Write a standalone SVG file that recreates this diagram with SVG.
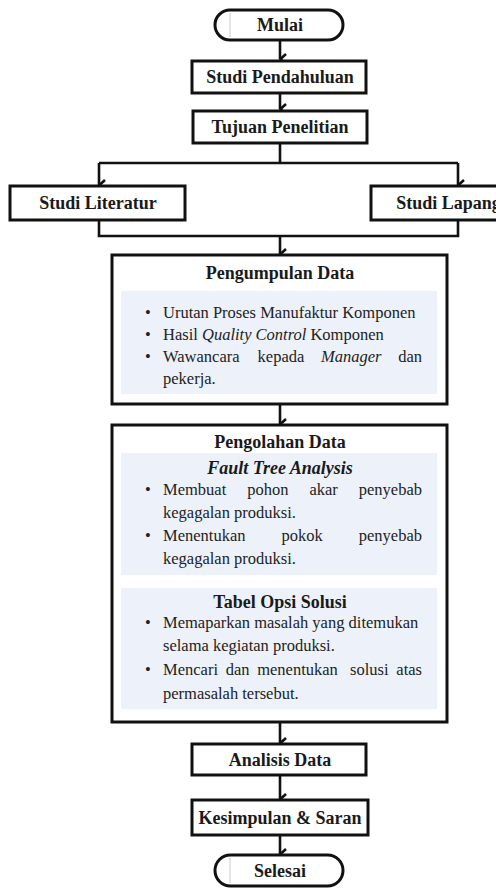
<svg xmlns="http://www.w3.org/2000/svg" width="496" height="888" viewBox="0 0 496 888">
<defs>
<style>
.box{fill:#fff;stroke:#111;stroke-width:3}
.panel{fill:#edf2fa;stroke:none}
text{font-family:'Liberation Serif',Tinos,'Times New Roman','DejaVu Serif',serif;fill:#1a1a1a}
.lbl{font-weight:bold;font-size:18px;text-anchor:middle}
.ttl{font-weight:bold;font-size:18px;text-anchor:middle}
.body{font-size:16.5px;fill:#222}
.end{text-anchor:end}
.it{font-style:italic}
.conn{fill:none;stroke:#111;stroke-width:2.6}
</style>
<marker id="arr" viewBox="0 0 12 8" refX="6" refY="7" markerWidth="12" markerHeight="8" markerUnits="userSpaceOnUse" orient="auto-start-reverse">
<path d="M1,1 L6,6.5 L11,1" fill="none" stroke="#111" stroke-width="2.6"/>
</marker>
</defs>
<rect width="496" height="888" fill="#fff"/>

<g id="connectors">
<path class="conn" d="M280,40 V59" marker-end="url(#arr)"/>
<path class="conn" d="M280,93 V109" marker-end="url(#arr)"/>
<path class="conn" d="M280,143 V163"/>
<path class="conn" d="M99,163 H458"/>
<path class="conn" d="M99,163 V185" marker-end="url(#arr)"/>
<path class="conn" d="M458,163 V185" marker-end="url(#arr)"/>
<path class="conn" d="M99,220 V236 H458 V220"/>
<path class="conn" d="M280,236 V254" marker-end="url(#arr)"/>
<path class="conn" d="M280,404 V424" marker-end="url(#arr)"/>
<path class="conn" d="M280,722 V743" marker-end="url(#arr)"/>
<path class="conn" d="M280,775 V799" marker-end="url(#arr)"/>
<path class="conn" d="M280,835 V854" marker-end="url(#arr)"/>
</g>

<g id="mulai">
<rect class="box" x="215" y="10" width="128" height="30" rx="15"/>
<line x1="230" y1="13" x2="230" y2="37" stroke="#ccc" stroke-width="1"/>
<text class="lbl" x="280" y="31">Mulai</text>
</g>

<g id="studi-pendahuluan">
<rect class="box" x="192" y="61" width="174" height="32"/>
<text class="lbl" x="280" y="83">Studi Pendahuluan</text>
</g>

<g id="tujuan-penelitian">
<rect class="box" x="193" y="111" width="174" height="32"/>
<text class="lbl" x="280" y="133">Tujuan Penelitian</text>
</g>

<g id="studi-literatur">
<rect class="box" x="10" y="186" width="175" height="34"/>
<text class="lbl" x="98" y="209">Studi Literatur</text>
</g>

<g id="studi-lapangan">
<rect class="box" x="371" y="186" width="175" height="34"/>
<text class="lbl" x="458" y="209">Studi Lapangan</text>
</g>

<g id="pengumpulan-data">
<rect class="box" x="112" y="255" width="335" height="149"/>
<rect class="panel" x="121" y="291" width="316" height="103"/>
<text class="ttl" x="280" y="279">Pengumpulan Data</text>
<text class="body" x="145" y="318">•</text>
<text class="body" x="163" y="318">Urutan Proses Manufaktur Komponen</text>
<text class="body" x="145" y="340">•</text>
<text class="body" x="163" y="340">Hasil <tspan class="it">Quality Control</tspan> Komponen</text>
<text class="body" x="145" y="362">•</text>
<text class="body" x="163" y="362">Wawancara</text>
<text class="body" x="257.6" y="362">kepada</text>
<text class="body it" x="321" y="362">Manager</text>
<text class="body end" x="422" y="362">dan</text>
<text class="body" x="163" y="384">pekerja.</text>
</g>

<g id="pengolahan-data">
<rect class="box" x="112" y="425" width="335" height="297"/>
<rect class="panel" x="121" y="453" width="316" height="122"/>
<rect class="panel" x="121" y="588" width="316" height="121"/>
<text class="ttl" x="280" y="448">Pengolahan Data</text>
<text class="ttl it" x="280" y="474">Fault Tree Analysis</text>
<text class="body" x="145" y="495">•</text>
<text class="body" x="163" y="495">Membuat</text>
<text class="body" x="247.2" y="495">pohon</text>
<text class="body" x="309.4" y="495">akar</text>
<text class="body end" x="422" y="495">penyebab</text>
<text class="body" x="163" y="518">kegagalan produksi.</text>
<text class="body" x="145" y="541">•</text>
<text class="body" x="163" y="541">Menentukan</text>
<text class="body" x="281.5" y="541">pokok</text>
<text class="body end" x="422" y="541">penyebab</text>
<text class="body" x="163" y="564">kegagalan produksi.</text>
<text class="ttl" x="280" y="608">Tabel Opsi Solusi</text>
<text class="body" x="145" y="628">•</text>
<text class="body" x="163" y="628">Memaparkan masalah yang ditemukan</text>
<text class="body" x="163" y="651">selama kegiatan produksi.</text>
<text class="body" x="145" y="675">•</text>
<text class="body" x="163" y="675">Mencari</text>
<text class="body" x="225.7" y="675">dan</text>
<text class="body" x="257.2" y="675">menentukan</text>
<text class="body" x="350.1" y="675">solusi</text>
<text class="body end" x="422" y="675">atas</text>
<text class="body" x="163" y="699">permasalah tersebut.</text>
</g>

<g id="analisis-data">
<rect class="box" x="192" y="744" width="174" height="31"/>
<text class="lbl" x="280" y="766">Analisis Data</text>
</g>

<g id="kesimpulan-saran">
<rect class="box" x="192" y="800" width="176" height="35"/>
<text class="lbl" x="280" y="824">Kesimpulan &amp; Saran</text>
</g>

<g id="selesai">
<rect class="box" x="215" y="855" width="128" height="31" rx="15.5"/>
<line x1="230" y1="858" x2="230" y2="883" stroke="#ccc" stroke-width="1"/>
<text class="lbl" x="280" y="877">Selesai</text>
</g>
</svg>
